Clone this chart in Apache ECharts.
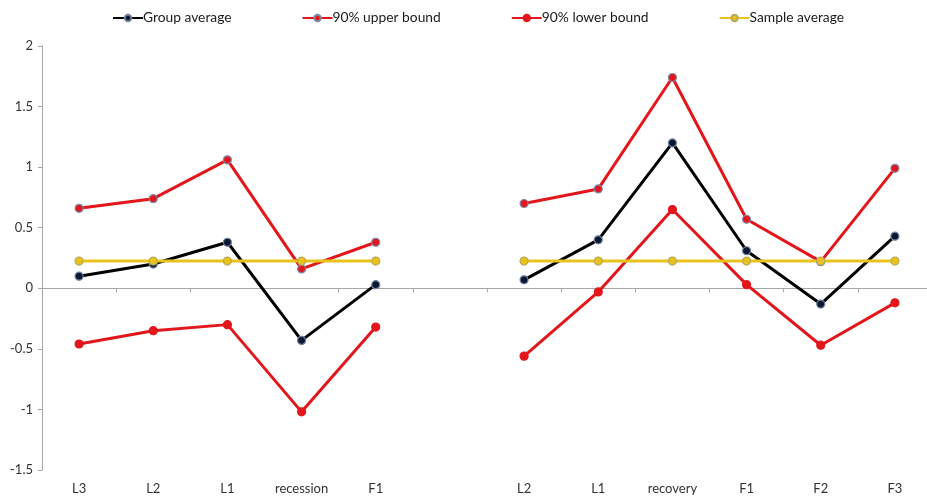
<!DOCTYPE html>
<html>
<head>
<meta charset="utf-8">
<script src="https://cdn.jsdelivr.net/npm/echarts@6/dist/echarts.min.js"></script>
<style>
  html, body { margin: 0; padding: 0; background: #fff; }
  #chart { width: 927px; height: 497px; }
</style>
</head>
<body>
<div id="chart"></div>
<script>
// Periods around recessions (left block) and recoveries (right block); the empty slot separates them.
const categories = ['L3', 'L2', 'L1', 'recession', 'F1', '', 'L2', 'L1', 'recovery', 'F1', 'F2', 'F3'];

const groupAverage = [0.10, 0.20, 0.38, -0.43, 0.03, null, 0.07, 0.40, 1.20, 0.31, -0.13, 0.43];
const upperBound   = [0.66, 0.74, 1.06, 0.16, 0.38, null, 0.70, 0.82, 1.74, 0.57, 0.22, 0.99];
const lowerBound   = [-0.46, -0.35, -0.30, -1.02, -0.32, null, -0.56, -0.03, 0.65, 0.03, -0.47, -0.12];
const sampleAverage = [0.225, 0.225, 0.225, 0.225, 0.225, null, 0.225, 0.225, 0.225, 0.225, 0.225, 0.225];

const yTicks = { min: -1.5, max: 2, interval: 0.5 };

const RED = '#e3161b';
const YELLOW = '#e9c21c';
const FONT = 'Lato, "Liberation Sans", sans-serif';

function lineSeries(name, data, lineColor, fill, border) {
  return {
    name: name,
    type: 'line',
    xAxisIndex: 0,
    data: data,
    connectNulls: false,
    symbol: 'circle',
    symbolSize: 8,
    lineStyle: { color: lineColor, width: 3 },
    itemStyle: { color: fill, borderColor: border, borderWidth: 1.2 },
    emphasis: { disabled: true },
    z: 3
  };
}

const chart = echarts.init(document.getElementById('chart'), null, { renderer: 'canvas' });
chart.setOption({
  animation: false,
  backgroundColor: '#ffffff',
  textStyle: { fontFamily: FONT },
  legend: {
    top: 11,
    left: 112,
    padding: 0,
    itemWidth: 30,
    itemHeight: 8,
    itemGap: 70,
    textStyle: { fontFamily: FONT, fontSize: 13.8, color: '#1a1a1a', padding: [0, 0, 0, -5] },
    data: ['Group average', '90% upper bound', '90% lower bound', 'Sample average']
  },
  grid: { left: 42, right: -5, top: 46, bottom: 27, containLabel: false, outerBoundsMode: 'none' },
  xAxis: [
    {
      // category labels along the bottom edge
      type: 'category',
      data: categories,
      position: 'bottom',
      boundaryGap: true,
      axisLine: { show: false, onZero: false },
      axisTick: { show: false },
      axisLabel: { interval: 0, margin: 12, fontFamily: FONT, fontSize: 13, color: '#333' },
      splitLine: { show: false }
    },
    {
      // baseline through zero with boundary ticks
      type: 'category',
      data: categories,
      position: 'bottom',
      boundaryGap: true,
      axisLine: { show: true, onZero: true, lineStyle: { color: '#a6a6a6', width: 1 } },
      axisTick: { show: true, interval: 0, length: 4, inside: false, lineStyle: { color: '#a6a6a6' } },
      axisLabel: { show: false },
      splitLine: { show: false }
    }
  ],
  yAxis: {
    type: 'value',
    min: yTicks.min,
    max: yTicks.max,
    interval: yTicks.interval,
    axisLine: { show: true, lineStyle: { color: '#a6a6a6', width: 1 } },
    axisTick: { show: true, length: 4, lineStyle: { color: '#a6a6a6' } },
    axisLabel: { margin: 9, fontFamily: FONT, fontSize: 13, color: '#333' },
    splitLine: { show: false }
  },
  series: [
    lineSeries('Group average', groupAverage, '#000000', '#0b1733', '#6f7f9c'),
    lineSeries('90% upper bound', upperBound, RED, RED, '#7c8aa6'),
    lineSeries('90% lower bound', lowerBound, RED, RED, RED),
    lineSeries('Sample average', sampleAverage, YELLOW, YELLOW, '#b7a95c')
  ]
});
</script>
</body>
</html>
